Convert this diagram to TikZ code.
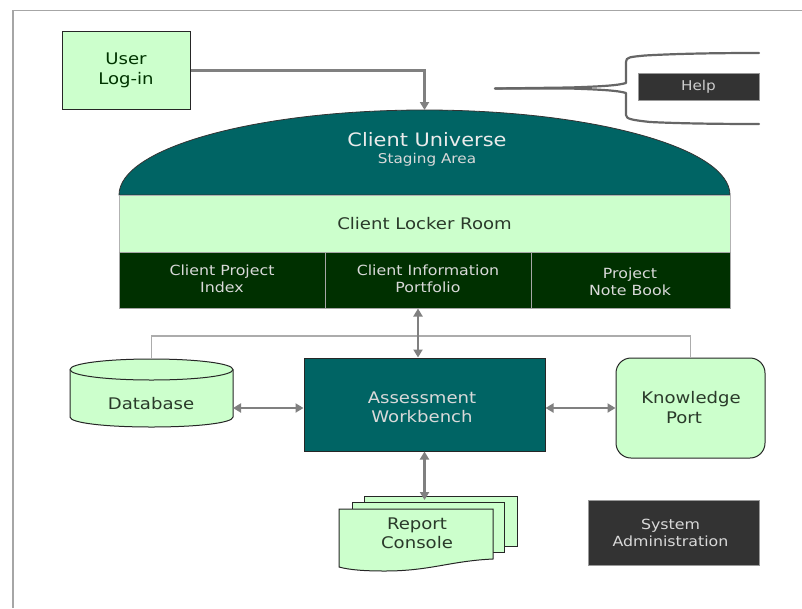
\documentclass[tikz,border=0pt]{standalone}
\usepackage{fontspec}
\setmainfont{DejaVu Sans}[FakeStretch=1.13]
\usetikzlibrary{arrows.meta}
\definecolor{teal}{HTML}{006464}
\definecolor{mint}{HTML}{CCFFCC}
\definecolor{forest}{HTML}{003000}
\definecolor{charcoal}{HTML}{333333}
\definecolor{ink}{HTML}{2A3A2A}
\definecolor{linkgray}{HTML}{808080}
\tikzset{
  box/.style={draw=#1,line width=1pt,inner sep=0pt,align=center},
  mintbox/.style={box=black!85,fill=mint,text=ink},
  darkbox/.style={box=gray!80,fill=charcoal},
  ghost/.style={inner sep=0pt,outer sep=0pt},
  txt/.style={inner sep=0pt,align=center,font=\fontsize{#1}{19.5}\selectfont},
  smalltxt/.style={inner sep=0pt,align=center,font=\fontsize{14}{17}\selectfont,text=white!85!black},
  link/.style={draw=linkgray,line width=2.1pt,-{Triangle[length=8pt,width=9pt]}},
  dlink/.style={draw=linkgray,line width=2.1pt,{Triangle[length=8pt,width=9pt]}-{Triangle[length=8pt,width=9pt]}},
  thinlink/.style={draw=gray!65,line width=1.5pt},
  brace/.style={draw=black!60,line width=2.2pt,line cap=round,line join=round},
  outline/.style={draw=black!85,line width=1pt,fill=mint}
}
\begin{document}
\begin{tikzpicture}[x=1pt,y=-1pt]
\useasboundingbox (0,0) rectangle (802,608);
% frame
\draw[gray!70,line width=1.5pt] (13,608) -- (13,10.5) -- (802,10.5);
% login
\node[mintbox,minimum width=128pt,minimum height=78pt] (user) at (126,70.5) {};
\node[txt=16,text=black!55!green!45!black] (usertext) at (126,70.5) {User\\[1pt]Log-in};
% dome
\path[fill=teal,draw=black!80,line width=.8pt] (119,195) .. controls (119,148) and (256,110) .. (424.5,110) .. controls (593,110) and (730,148) .. (730,195) -- cycle;
\node[ghost,minimum width=611pt,minimum height=85pt] (dome) at (424.5,152.5) {};
\node[txt=18.5,text=white!92!black] (universe) at (427,140) {Client Universe};
\node[txt=13.5,text=white!85!black] (staging) at (427,159.5) {Staging Area};
% locker
\node[box=gray!60,fill=mint,text=ink,minimum width=611pt,minimum height=57pt,font=\fontsize{16}{20}\selectfont] (locker) at (424.5,223.5) {Client Locker Room};
% cells
\node[box=gray!70,fill=forest,minimum width=206pt,minimum height=56pt] (cellA) at (222,280) {};
\node[box=gray!70,fill=forest,minimum width=206pt,minimum height=56pt] (cellB) at (428,280) {};
\node[box=gray!70,fill=forest,minimum width=199pt,minimum height=56pt] (cellC) at (630.5,280) {};
\node[smalltxt] (cellAtext) at (222,278.5) {Client Project\\Index};
\node[smalltxt] (cellBtext) at (428,278.5) {Client Information\\Portfolio};
\node[smalltxt] (cellCtext) at (630,281.5) {Project\\Note Book};
% help bracket
\node[darkbox,minimum width=121pt,minimum height=27pt] (help) at (698.5,86.5) {};
\node[txt=13.5,text=white!80!black] (helptext) at (698.5,87) {Help};
\coordinate (braceTail) at (495,88.5);
\coordinate (braceTop) at (759,53);
\coordinate (braceBot) at (759,124);
\draw[brace] (braceTail) -- (570,87.5) .. controls (600,86.5) and (618,85.5) .. (626,83) -- (626,62) .. controls (626,57) and (630,57) .. (645,55.5) .. controls (680,53.5) and (720,53) .. (braceTop);
\draw[brace] (braceTail) -- (570,88.5) .. controls (600,89.5) and (618,90.5) .. (626,93) -- (626,115) .. controls (626,119) and (632,120) .. (650,122) .. controls (680,123.5) and (720,124) .. (braceBot);
% database
\path[outline] (70,369.5) -- (70,417) .. controls (70,423) and (106,427) .. (151.5,427) .. controls (197,427) and (233,423) .. (233,417) -- (233,369.5) .. controls (233,363.5) and (197,359) .. (151.5,359) .. controls (106,359) and (70,363.5) .. cycle;
\draw[black!85,line width=1pt] (70,369.5) .. controls (70,375.5) and (106,380) .. (151.5,380) .. controls (197,380) and (233,375.5) .. (233,369.5);
\node[ghost,minimum width=163pt,minimum height=68pt] (db) at (151.5,393) {};
\node[txt=16,text=ink] (dbtext) at (151,404) {Database};
% workbench
\node[box=black!85,fill=teal,minimum width=241pt,minimum height=93pt] (wb) at (424.5,404.5) {};
\node[txt=16,text=white!85!black] (wbtext) at (422,407.5) {Assessment\\Workbench};
% knowledge port
\node[mintbox,rounded corners=15pt,minimum width=149pt,minimum height=100pt] (kp) at (690.5,408) {};
\node[txt=16,text=ink] (kptext) at (691,407.5) {Knowledge\\Port\hspace*{14pt}};
% report console
\path[outline] (364,496) -- (517,496) -- (517,546) -- (364,546) -- cycle;
\path[outline] (352,502) -- (504,502) -- (504,552) -- (352,552) -- cycle;
\path[outline] (339,509) -- (493,509) -- (493,559) .. controls (450,561) and (430,571) .. (385,571) .. controls (365,571) and (350,570) .. (339,567) -- cycle;
\node[ghost,minimum width=178pt,minimum height=75pt] (rep) at (428,533.5) {};
\node[txt=16,text=ink] (reptext) at (417,533.5) {Report\\Console};
\coordinate (repin) at (424.5,500);
% sys admin
\node[darkbox,minimum width=171pt,minimum height=65pt] (sys) at (673.5,532.5) {};
\node[smalltxt] (systext) at (670.5,532.5) {System\\Administration};
% connectors
\draw[link] (user.east) -| (dome.north);
\draw[thinlink] (db.north) -- ++(0,-23) -| (kp.north);
\draw[dlink] ([xshift=-6.5pt]wb.north) -- ([xshift=-10pt]cellB.south);
\draw[dlink] (wb.west |- kp.west) -- ([yshift=-15pt]db.east);
\draw[dlink] (wb.east |- kp.west) -- (kp.west);
\draw[dlink] (wb.south) -- (repin);
\end{tikzpicture}
\end{document}
